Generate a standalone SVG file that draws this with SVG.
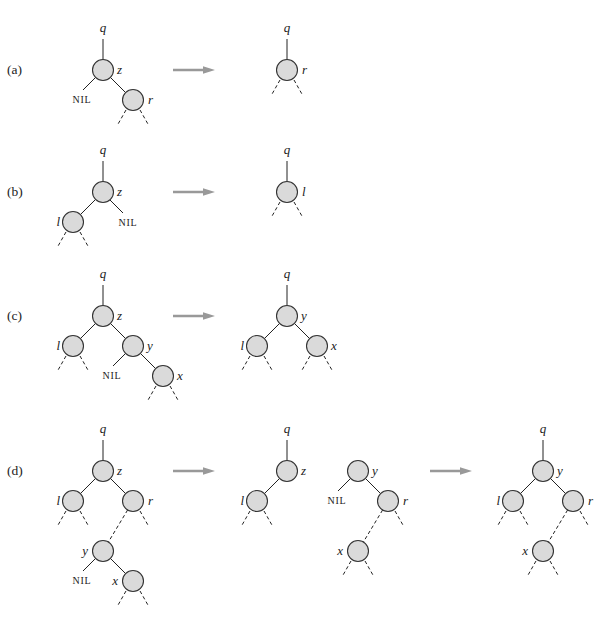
<svg xmlns="http://www.w3.org/2000/svg" width="611" height="629" viewBox="0 0 611 629">
<style>
.n circle{fill:#dadada;stroke:#333;stroke-width:1.1}
.e line{stroke:#222;stroke-width:1;fill:none}
.e line.d{stroke-dasharray:3.5 2.6}
.v{font-family:"Liberation Serif",serif;font-style:italic;font-size:13px;fill:#222}
.nil{font-family:"Liberation Serif",serif;font-size:10px;letter-spacing:0.8px;fill:#222;text-anchor:middle}
.tag{font-family:"Liberation Serif",serif;font-size:13.5px;fill:#222}
.m{text-anchor:middle}
.end{text-anchor:end}
.arr line{stroke:#999;stroke-width:2.6}
.arr polygon{fill:#999}
</style>
<rect width="611" height="629" fill="#fff"/>

<g id="tags">
<text class="tag" x="7" y="74">(a)</text>
<text class="tag" x="7" y="196">(b)</text>
<text class="tag" x="7" y="320">(c)</text>
<text class="tag" x="7" y="475">(d)</text>
</g>

<g id="arrows" class="arr">
<line x1="173" y1="70" x2="206" y2="70"/><polygon points="215,70 203,66.3 203,73.7"/>
<line x1="173" y1="192" x2="206" y2="192"/><polygon points="215,192 203,188.3 203,195.7"/>
<line x1="173" y1="316" x2="206" y2="316"/><polygon points="215,316 203,312.3 203,319.7"/>
<line x1="173" y1="471" x2="206" y2="471"/><polygon points="215,471 203,467.3 203,474.7"/>
<line x1="430" y1="471" x2="463" y2="471"/><polygon points="472,471 460,467.3 460,474.7"/>
</g>

<g id="connectors" class="e">
<!-- (a) left -->
<line x1="103" y1="39" x2="103" y2="59.5"/>
<line x1="96" y1="77" x2="83" y2="90"/>
<line x1="110.4" y1="77.4" x2="125.6" y2="92.6"/>
<line class="d" x1="126" y1="110" x2="117.5" y2="125"/>
<line class="d" x1="140" y1="110" x2="148.5" y2="125"/>
<!-- (a) right -->
<line x1="287" y1="39" x2="287" y2="59.5"/>
<line class="d" x1="280" y1="80" x2="271.5" y2="95"/>
<line class="d" x1="294" y1="80" x2="302.5" y2="95"/>
<!-- (b) left -->
<line x1="103" y1="161" x2="103" y2="181.5"/>
<line x1="95.6" y1="199.4" x2="80.4" y2="214.6"/>
<line x1="110" y1="200" x2="123" y2="213"/>
<line class="d" x1="66" y1="232" x2="57.5" y2="247"/>
<line class="d" x1="80" y1="232" x2="88.5" y2="247"/>
<!-- (b) right -->
<line x1="287" y1="161" x2="287" y2="181.5"/>
<line class="d" x1="280" y1="202" x2="271.5" y2="217"/>
<line class="d" x1="294" y1="202" x2="302.5" y2="217"/>
<!-- (c) left -->
<line x1="103" y1="285" x2="103" y2="305.5"/>
<line x1="95.6" y1="323.4" x2="80.4" y2="338.6"/>
<line x1="110.4" y1="323.4" x2="125.6" y2="338.6"/>
<line class="d" x1="66" y1="356" x2="57.5" y2="371"/>
<line class="d" x1="80" y1="356" x2="88.5" y2="371"/>
<line x1="126" y1="353" x2="113" y2="366"/>
<line x1="140.4" y1="353.4" x2="155.6" y2="368.6"/>
<line class="d" x1="156" y1="386" x2="147.5" y2="401"/>
<line class="d" x1="170" y1="386" x2="178.5" y2="401"/>
<!-- (c) right -->
<line x1="287" y1="285" x2="287" y2="305.5"/>
<line x1="279.6" y1="323.4" x2="264.4" y2="338.6"/>
<line x1="294.4" y1="323.4" x2="309.6" y2="338.6"/>
<line class="d" x1="250" y1="356" x2="241.5" y2="371"/>
<line class="d" x1="264" y1="356" x2="272.5" y2="371"/>
<line class="d" x1="310" y1="356" x2="301.5" y2="371"/>
<line class="d" x1="324" y1="356" x2="332.5" y2="371"/>
<!-- (d) left -->
<line x1="103" y1="440" x2="103" y2="460.5"/>
<line x1="95.6" y1="478.4" x2="80.4" y2="493.6"/>
<line x1="110.4" y1="478.4" x2="125.6" y2="493.6"/>
<line class="d" x1="66" y1="511" x2="57.5" y2="526"/>
<line class="d" x1="80" y1="511" x2="88.5" y2="526"/>
<line class="d" x1="140" y1="511" x2="148.5" y2="526"/>
<line class="d" x1="127.6" y1="510" x2="108.4" y2="542"/>
<line x1="96" y1="558" x2="83" y2="571"/>
<line x1="110.4" y1="558.4" x2="125.6" y2="573.6"/>
<line class="d" x1="126" y1="591" x2="117.5" y2="606"/>
<line class="d" x1="140" y1="591" x2="148.5" y2="606"/>
<!-- (d) middle -->
<line x1="287" y1="440" x2="287" y2="460.5"/>
<line x1="279.6" y1="478.4" x2="264.4" y2="493.6"/>
<line class="d" x1="250" y1="511" x2="241.5" y2="526"/>
<line class="d" x1="264" y1="511" x2="272.5" y2="526"/>
<line x1="351" y1="478" x2="338" y2="491"/>
<line x1="365.4" y1="478.4" x2="380.6" y2="493.6"/>
<line class="d" x1="395" y1="511" x2="403.5" y2="526"/>
<line class="d" x1="382.6" y1="510" x2="363.4" y2="542"/>
<line class="d" x1="351" y1="561" x2="342.5" y2="576"/>
<line class="d" x1="365" y1="561" x2="373.5" y2="576"/>
<!-- (d) right -->
<line x1="543" y1="440" x2="543" y2="460.5"/>
<line x1="535.6" y1="478.4" x2="520.4" y2="493.6"/>
<line x1="550.4" y1="478.4" x2="565.6" y2="493.6"/>
<line class="d" x1="506" y1="511" x2="497.5" y2="526"/>
<line class="d" x1="520" y1="511" x2="528.5" y2="526"/>
<line class="d" x1="580" y1="511" x2="588.5" y2="526"/>
<line class="d" x1="567.6" y1="510" x2="548.4" y2="542"/>
<line class="d" x1="536" y1="561" x2="527.5" y2="576"/>
<line class="d" x1="550" y1="561" x2="558.5" y2="576"/>
</g>

<!-- (a) -->
<g id="a-q1"><text class="v m" x="103" y="32">q</text></g>
<g id="a-z" class="n"><circle cx="103" cy="70" r="10.5"/><text class="v" x="117" y="74">z</text></g>
<g id="a-nil"><text class="nil" x="82" y="103">NIL</text></g>
<g id="a-r" class="n"><circle cx="133" cy="100" r="10.5"/><text class="v" x="148" y="104">r</text></g>
<g id="a-q2"><text class="v m" x="287" y="32">q</text></g>
<g id="a-r2" class="n"><circle cx="287" cy="70" r="10.5"/><text class="v" x="302" y="74">r</text></g>

<!-- (b) -->
<g id="b-q1"><text class="v m" x="103" y="154">q</text></g>
<g id="b-z" class="n"><circle cx="103" cy="192" r="10.5"/><text class="v" x="117" y="196">z</text></g>
<g id="b-l" class="n"><circle cx="73" cy="222" r="10.5"/><text class="v end" x="60" y="226">l</text></g>
<g id="b-nil"><text class="nil" x="128" y="226">NIL</text></g>
<g id="b-q2"><text class="v m" x="287" y="154">q</text></g>
<g id="b-l2" class="n"><circle cx="287" cy="192" r="10.5"/><text class="v" x="302" y="196">l</text></g>

<!-- (c) -->
<g id="c-q1"><text class="v m" x="103" y="278">q</text></g>
<g id="c-z" class="n"><circle cx="103" cy="316" r="10.5"/><text class="v" x="117" y="320">z</text></g>
<g id="c-l" class="n"><circle cx="73" cy="346" r="10.5"/><text class="v end" x="60" y="350">l</text></g>
<g id="c-y" class="n"><circle cx="133" cy="346" r="10.5"/><text class="v" x="147" y="350">y</text></g>
<g id="c-nil"><text class="nil" x="112" y="379">NIL</text></g>
<g id="c-x" class="n"><circle cx="163" cy="376" r="10.5"/><text class="v" x="177" y="380">x</text></g>
<g id="c-q2"><text class="v m" x="287" y="278">q</text></g>
<g id="c-y2" class="n"><circle cx="287" cy="316" r="10.5"/><text class="v" x="301" y="320">y</text></g>
<g id="c-l2" class="n"><circle cx="257" cy="346" r="10.5"/><text class="v end" x="244" y="350">l</text></g>
<g id="c-x2" class="n"><circle cx="317" cy="346" r="10.5"/><text class="v" x="331" y="350">x</text></g>

<!-- (d) -->
<g id="d-q1"><text class="v m" x="103" y="433">q</text></g>
<g id="d-z" class="n"><circle cx="103" cy="471" r="10.5"/><text class="v" x="117" y="475">z</text></g>
<g id="d-l" class="n"><circle cx="73" cy="501" r="10.5"/><text class="v end" x="60" y="505">l</text></g>
<g id="d-r" class="n"><circle cx="133" cy="501" r="10.5"/><text class="v" x="148" y="505">r</text></g>
<g id="d-y" class="n"><circle cx="103" cy="551" r="10.5"/><text class="v end" x="88" y="555">y</text></g>
<g id="d-nil"><text class="nil" x="82" y="584">NIL</text></g>
<g id="d-x" class="n"><circle cx="133" cy="581" r="10.5"/><text class="v end" x="118" y="585">x</text></g>

<g id="d-q2"><text class="v m" x="287" y="433">q</text></g>
<g id="d-z2" class="n"><circle cx="287" cy="471" r="10.5"/><text class="v" x="301" y="475">z</text></g>
<g id="d-l2" class="n"><circle cx="257" cy="501" r="10.5"/><text class="v end" x="244" y="505">l</text></g>
<g id="d-y2" class="n"><circle cx="358" cy="471" r="10.5"/><text class="v" x="372" y="475">y</text></g>
<g id="d-nil2"><text class="nil" x="337" y="504">NIL</text></g>
<g id="d-r2" class="n"><circle cx="388" cy="501" r="10.5"/><text class="v" x="403" y="505">r</text></g>
<g id="d-x2" class="n"><circle cx="358" cy="551" r="10.5"/><text class="v end" x="343" y="555">x</text></g>

<g id="d-q3"><text class="v m" x="543" y="433">q</text></g>
<g id="d-y3" class="n"><circle cx="543" cy="471" r="10.5"/><text class="v" x="557" y="475">y</text></g>
<g id="d-l3" class="n"><circle cx="513" cy="501" r="10.5"/><text class="v end" x="500" y="505">l</text></g>
<g id="d-r3" class="n"><circle cx="573" cy="501" r="10.5"/><text class="v" x="588" y="505">r</text></g>
<g id="d-x3" class="n"><circle cx="543" cy="551" r="10.5"/><text class="v end" x="528" y="555">x</text></g>
</svg>
